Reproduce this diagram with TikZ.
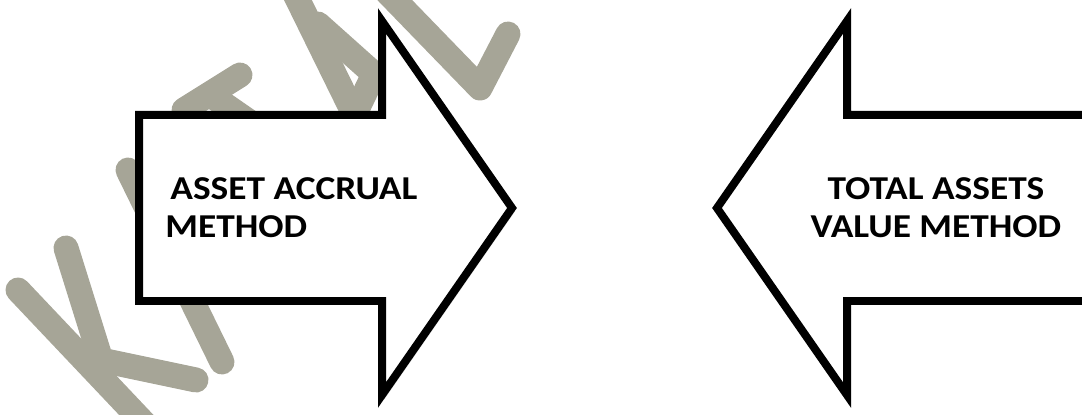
\documentclass[tikz,border=0pt]{standalone}
\usepackage{fontspec}
\setmainfont[FakeStretch=1.12]{Carlito}
\usetikzlibrary{positioning}
\definecolor{markgrey}{HTML}{A6A597}
\tikzset{
  blockarrow/.style={draw=black, fill=white, line width=1.6mm, miter limit=10,
    preaction={draw=black, opacity=0.15, transform canvas={xshift=0.5mm, yshift=-0.7mm}}},
  markstroke/.style={draw=markgrey, line width=5mm, line cap=round, line join=round},
  arrowtext/.style={font=\fontsize{19}{22}\selectfont\bfseries, inner sep=0pt}
}

\begin{document}
\begin{tikzpicture}[x=0.02cm, y=-0.02cm]
  \useasboundingbox (0,0) rectangle (1082,415);
  \clip (0,0) rectangle (1082,415);
  % Watermark behind the arrows
  \draw[markstroke] (18,290) -- (160,440);
  \draw[markstroke] (66,248) -- (101,360) -- (196,380);
  \draw[markstroke] (128,170) -- (222,362);
  \draw[markstroke] (184,110) -- (240,75);
  \draw[markstroke] (212,96) -- (290,150);
  \draw[markstroke] (293,-10) -- (350,106);
  \draw[markstroke] (318,24) -- (374,74) -- (352,120);
  \draw[markstroke] (385,-10) -- (480,88) -- (508,34);
  % Left arrow
  \draw[blockarrow] (139,115) -- (382,115) -- (382,21) -- (512,208) -- (382,395)
    -- (382,301) -- (139,301) -- cycle;
  % Right arrow
  \draw[blockarrow] (1110,115) -- (847,115) -- (847,21) -- (717,208) -- (847,395)
    -- (847,301) -- (1110,301) -- cycle;
  % Labels
  \node[arrowtext, anchor=north west, align=left] (accrual) at (165,177)
    {\hspace*{0.15em}ASSET ACCRUAL\\METHOD};
  \node[arrowtext, anchor=north, align=center] (totalvalue) at (936,177)
    {TOTAL ASSETS\\VALUE METHOD};
\end{tikzpicture}
\end{document}
